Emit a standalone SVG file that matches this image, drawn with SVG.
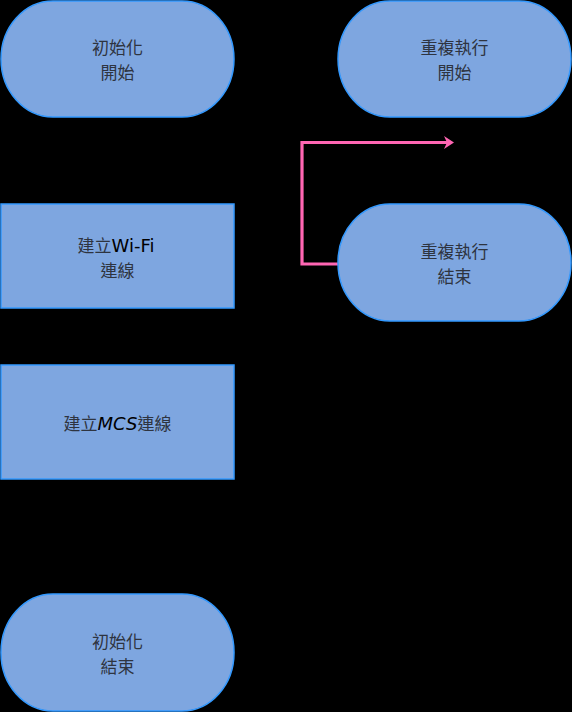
<svg xmlns="http://www.w3.org/2000/svg" width="572" height="712" viewBox="0 0 572 712">
<style>
.node{fill:#7EA6E0;stroke:#3399FF;stroke-width:1.5}
.t{font-family:"Noto Sans CJK TC","Noto Sans CJK SC",sans-serif;font-size:17px;fill:#2e3440;text-anchor:middle}
.lat{font-family:"DejaVu Sans",sans-serif;fill:#000;font-size:18px}
.pink{fill:none;stroke:#FF66B3;stroke-width:3.2}
.blk{fill:none;stroke:#000;stroke-width:1}
</style>
<defs>
<marker id="pa" markerUnits="userSpaceOnUse" markerWidth="11" markerHeight="14" refX="4" refY="6.5" orient="auto" viewBox="0 0 11 13">
<path d="M0,0 L10,6.5 L0,13 L3,6.5 Z" fill="#FF66B3"/>
</marker>
<marker id="ba" markerUnits="userSpaceOnUse" markerWidth="10" markerHeight="10" refX="9" refY="5" orient="auto" viewBox="0 0 10 10">
<path d="M0,0 L9,5 L0,10 L2.5,5 Z" fill="#000"/>
</marker>
</defs>
<rect x="0" y="0" width="572" height="712" fill="#000"/>
<g id="connectors">
<path class="blk" d="M117.5,117 V203" marker-end="url(#ba)"/>
<path class="blk" d="M117.5,308 V364" marker-end="url(#ba)"/>
<path class="blk" d="M117.5,479 V593" marker-end="url(#ba)"/>
<path class="pink" d="M338,264 H302 V142.5 H448" marker-end="url(#pa)"/>
</g>
<g id="init-start">
<rect class="node" x="1" y="1" width="233" height="116" rx="52" ry="58"/>
<text class="t" y="54"><tspan x="117.5">初始化</tspan><tspan x="117.5" dy="25">開始</tspan></text>
</g>
<g id="wifi">
<rect class="node" x="1" y="204" width="233" height="104"/>
<text class="t" y="252"><tspan x="116">建立<tspan class="lat">Wi-Fi</tspan></tspan><tspan x="117.5" dy="25">連線</tspan></text>
</g>
<g id="mcs">
<rect class="node" x="1" y="365" width="233" height="114"/>
<text class="t" x="117.5" y="430">建立<tspan class="lat" font-style="italic">MCS</tspan>連線</text>
</g>
<g id="init-end">
<rect class="node" x="1" y="594" width="233" height="117" rx="52" ry="58"/>
<text class="t" y="648"><tspan x="117.5">初始化</tspan><tspan x="117.5" dy="25">結束</tspan></text>
</g>
<g id="loop-start">
<rect class="node" x="338" y="1" width="233" height="116" rx="52" ry="58"/>
<text class="t" y="54"><tspan x="454.5">重複執行</tspan><tspan x="454.5" dy="25">開始</tspan></text>
</g>
<g id="loop-end">
<rect class="node" x="338" y="204" width="233" height="117" rx="52" ry="58"/>
<text class="t" y="258"><tspan x="454.5">重複執行</tspan><tspan x="454.5" dy="25">結束</tspan></text>
</g>
</svg>
